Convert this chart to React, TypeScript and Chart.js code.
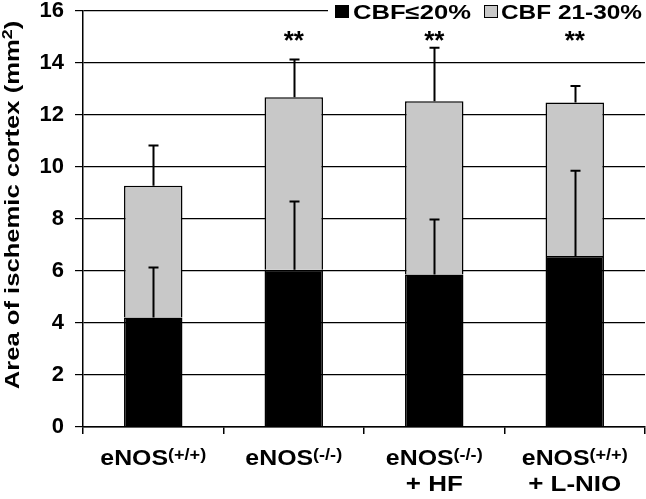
import React, { useEffect, useRef } from "react";
import { Chart, registerables } from "chart.js";

Chart.register(...registerables);

// ---- data ----
const categoryMain = ["eNOS", "eNOS", "eNOS", "eNOS"];
const categorySup = ["(+/+)", "(-/-)", "(-/-)", "(+/+)"];
const categoryLine2 = ["", "", "+ HF", "+ L-NIO"];
const seriesNames = ["CBF\u226420%", "CBF 21-30%"];
const cbf20 = [4.21, 6.05, 5.87, 6.58];
const cbf2130 = [5.07, 6.63, 6.66, 5.9];
const cbf20Err = [1.92, 2.62, 2.11, 3.28];
const cbf2130Err = [1.55, 1.45, 2.06, 0.64];
const significance = ["", "**", "**", "**"];
const yTicks = [0, 2, 4, 6, 8, 10, 12, 14, 16];
const yTitle = "Area of ischemic cortex (mm";
const yTitleSup = "2";

const FONT = "'Liberation Sans', Arial, Helvetica, sans-serif";
const BLACK = "#000000";
const GRAY = "#c8c8c8";

const overlayPlugin = {
  id: "overlay",
  afterDatasetsDraw(chart: any) {
    const ctx = chart.ctx;
    const y = chart.scales.y;
    const errs = [cbf20Err, cbf2130Err];
    const vals = [cbf20, cbf2130];
    ctx.save();
    ctx.strokeStyle = BLACK;
    ctx.lineWidth = 2;
    for (let d = 0; d < 2; d++) {
      const meta = chart.getDatasetMeta(d);
      meta.data.forEach((el: any, j: number) => {
        let cum = 0;
        for (let k = 0; k <= d; k++) cum += vals[k][j];
        const yTop = y.getPixelForValue(cum);
        const yErr = y.getPixelForValue(cum + errs[d][j]);
        const x = Math.round(el.x) + 0.5;
        ctx.beginPath();
        ctx.moveTo(x, yTop);
        ctx.lineTo(x, yErr);
        ctx.moveTo(x - 5, yErr);
        ctx.lineTo(x + 5, yErr);
        ctx.stroke();
      });
    }
    ctx.restore();
  },
  afterDraw(chart: any) {
    const ctx = chart.ctx;
    const xs = chart.scales.x;
    const area = chart.chartArea;
    ctx.save();
    ctx.fillStyle = BLACK;
    ctx.textBaseline = "alphabetic";

    // significance stars
    ctx.font = `bold 26px ${FONT}`;
    ctx.textAlign = "center";
    significance.forEach((s, i) => {
      if (!s) return;
      ctx.fillText(s, xs.getPixelForValue(i), 49);
    });

    // x category labels
    const mainSize = 22;
    const supSize = 16;
    const sx = 1.13;
    categoryMain.forEach((m, i) => {
      const cx = xs.getPixelForValue(i);
      ctx.font = `bold ${mainSize}px ${FONT}`;
      const wm = ctx.measureText(m).width;
      ctx.font = `bold ${supSize}px ${FONT}`;
      const ws = ctx.measureText(categorySup[i]).width;
      const total = (wm + ws) * sx;
      ctx.save();
      ctx.translate(cx - total / 2, 465);
      ctx.scale(sx, 1);
      ctx.textAlign = "left";
      ctx.font = `bold ${mainSize}px ${FONT}`;
      ctx.fillText(m, 0, 0);
      ctx.font = `bold ${supSize}px ${FONT}`;
      ctx.fillText(categorySup[i], wm, -5);
      ctx.restore();
      if (categoryLine2[i]) {
        ctx.save();
        ctx.font = `bold ${mainSize}px ${FONT}`;
        const w2 = ctx.measureText(categoryLine2[i]).width * 1.18;
        ctx.translate(cx - w2 / 2, 491);
        ctx.scale(1.18, 1);
        ctx.textAlign = "left";
        ctx.fillText(categoryLine2[i], 0, 0);
        ctx.restore();
      }
    });

    // y title (rotated)
    ctx.save();
    const tSize = 20;
    const tsx = 1.28;
    ctx.font = `bold ${tSize}px ${FONT}`;
    const w1 = ctx.measureText(yTitle).width;
    const wClose = ctx.measureText(")").width;
    ctx.font = `bold 14px ${FONT}`;
    const w2 = ctx.measureText(yTitleSup).width;
    const tot = (w1 + w2 + wClose) * tsx;
    const cy = (area.top + area.bottom) / 2 - 14;
    ctx.translate(19, cy);
    ctx.rotate(-Math.PI / 2);
    ctx.translate(-tot / 2, 0);
    ctx.scale(tsx, 1);
    ctx.textAlign = "left";
    ctx.font = `bold ${tSize}px ${FONT}`;
    ctx.fillText(yTitle, 0, 0);
    ctx.font = `bold 14px ${FONT}`;
    ctx.fillText(yTitleSup, w1, -7);
    ctx.font = `bold ${tSize}px ${FONT}`;
    ctx.fillText(")", w1 + w2, 0);
    ctx.restore();

    // legend
    ctx.fillStyle = "#ffffff";
    ctx.fillRect(328, 0, 646 - 328, 21);
    const lsx = 1.28;
    ctx.font = `bold 20px ${FONT}`;
    ctx.textAlign = "left";
    ctx.fillStyle = BLACK;
    ctx.fillRect(335, 5, 14, 13);
    ctx.save();
    ctx.translate(353, 19);
    ctx.scale(lsx, 1);
    ctx.fillText(seriesNames[0], 0, 0);
    ctx.restore();
    ctx.fillStyle = GRAY;
    ctx.fillRect(484, 5, 14, 13);
    ctx.strokeStyle = BLACK;
    ctx.lineWidth = 1;
    ctx.strokeRect(484.5, 5.5, 13, 12);
    ctx.fillStyle = BLACK;
    ctx.save();
    ctx.translate(501, 19);
    ctx.scale(1.22, 1);
    ctx.fillText(seriesNames[1], 0, 0);
    ctx.restore();

    ctx.restore();
  },
};

export default function App() {
  const ref = useRef<HTMLCanvasElement | null>(null);
  useEffect(() => {
    document.body.style.margin = "0";
    const canvas = ref.current!;
    const chart = new Chart(canvas, {
      type: "bar",
      data: {
        labels: categoryMain.map((m, i) => m + categorySup[i] + " " + categoryLine2[i]),
        datasets: [
          {
            label: seriesNames[0],
            data: cbf20,
            backgroundColor: BLACK,
            borderColor: BLACK,
            borderWidth: 1.5,
            categoryPercentage: 1,
            barPercentage: 0.416,
          },
          {
            label: seriesNames[1],
            data: cbf2130,
            backgroundColor: GRAY,
            borderColor: BLACK,
            borderWidth: 1.5,
            categoryPercentage: 1,
            barPercentage: 0.416,
          },
        ],
      },
      options: {
        responsive: false,
        animation: false,
        devicePixelRatio: 1,
        layout: { padding: { top: 11, right: 1, left: 0, bottom: 0 } },
        plugins: {
          legend: { display: false },
          tooltip: { enabled: false },
          title: { display: false },
        },
        scales: {
          x: {
            stacked: true,
            offset: true,
            border: { display: true, color: BLACK, width: 1.5 },
            grid: {
              offset: true,
              drawOnChartArea: false,
              drawTicks: true,
              tickLength: 7,
              color: BLACK,
              lineWidth: 1.5,
            },
            ticks: { display: false },
            afterFit: (scale: any) => {
              scale.height = 72;
              scale.paddingLeft = 0;
              scale.paddingRight = 0;
            },
          },
          y: {
            stacked: true,
            min: yTicks[0],
            max: yTicks[yTicks.length - 1],
            border: { display: true, color: BLACK, width: 1.5 },
            grid: {
              color: BLACK,
              lineWidth: 1.2,
              tickLength: 8,
              drawTicks: true,
            },
            afterBuildTicks: (scale: any) => {
              scale.ticks = yTicks.map((v) => ({ value: v }));
            },
            ticks: {
              color: BLACK,
              padding: 11,
              font: { family: FONT, weight: "bold", size: 22 },
            },
            afterFit: (scale: any) => {
              scale.width = 83;
              scale.paddingTop = 0;
              scale.paddingBottom = 0;
            },
          },
        },
      },
      plugins: [overlayPlugin],
    });
    return () => chart.destroy();
  }, []);
  return (
    <canvas
      ref={ref}
      width={646}
      height={499}
      style={{ display: "block", width: 646, height: 499 }}
    />
  );
}
